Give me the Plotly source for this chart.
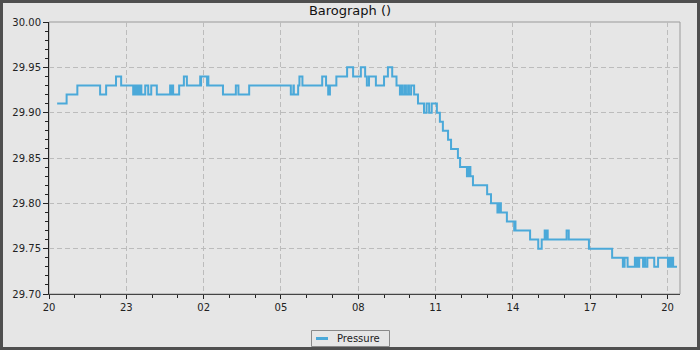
import datetime as dt
import plotly.graph_objects as go

# ---- data ----
start = dt.datetime(2024, 1, 1, 20, 0)
minutes = [19, 41, 66, 119, 133, 156, 168, 196, 198, 200, 203, 205, 208, 211, 213, 215,
           224, 231, 238, 251, 282, 284, 286, 289, 298, 303, 314, 321, 352, 353, 354,
           368, 369, 371, 405, 435, 441, 466, 563, 569, 570, 580, 583, 590, 636, 645,
           650, 654, 669, 694, 708, 726, 736, 740, 745, 761, 780, 789, 799, 809, 817,
           820, 822, 827, 831, 836, 838, 843, 850, 859, 873, 879, 885, 891, 903, 910,
           917, 929, 936, 952, 957, 973, 977, 981, 987, 1020, 1029, 1044, 1048, 1052,
           1066, 1083, 1084, 1086, 1120, 1139, 1147, 1154, 1156, 1157, 1161, 1205, 1210,
           1257, 1311, 1336, 1340, 1347, 1364, 1367, 1369, 1371, 1374, 1383, 1385, 1388,
           1393, 1409, 1418, 1441, 1444, 1447, 1449, 1453, 1462]
pressure = [29.91, 29.92, 29.93, 29.92, 29.93, 29.94, 29.93, 29.92, 29.93, 29.92, 29.93,
            29.92, 29.93, 29.92, 29.93, 29.92, 29.93, 29.92, 29.93, 29.92, 29.93, 29.92,
            29.93, 29.92, 29.92, 29.93, 29.94, 29.93, 29.94, 29.93, 29.94, 29.93, 29.94,
            29.93, 29.92, 29.93, 29.92, 29.93, 29.92, 29.93, 29.92, 29.93, 29.94, 29.93,
            29.94, 29.93, 29.92, 29.93, 29.94, 29.95, 29.94, 29.95, 29.94, 29.93, 29.94,
            29.93, 29.94, 29.95, 29.94, 29.93, 29.92, 29.93, 29.92, 29.93, 29.92, 29.93,
            29.92, 29.93, 29.92, 29.91, 29.90, 29.91, 29.90, 29.91, 29.90, 29.89, 29.88,
            29.87, 29.86, 29.85, 29.84, 29.83, 29.84, 29.83, 29.82, 29.81, 29.80, 29.79,
            29.80, 29.79, 29.78, 29.77, 29.78, 29.77, 29.76, 29.75, 29.76, 29.77, 29.76,
            29.77, 29.76, 29.77, 29.76, 29.75, 29.74, 29.73, 29.74, 29.73, 29.74, 29.73,
            29.74, 29.73, 29.74, 29.73, 29.74, 29.73, 29.74, 29.73, 29.74, 29.73, 29.74,
            29.73, 29.74, 29.73, 29.73]
series_name = "Pressure"
x_range_minutes = [0, 1469]
y_range = [29.70, 30.00]
y_ticks = [29.70, 29.75, 29.80, 29.85, 29.90, 29.95, 30.00]

times = [start + dt.timedelta(minutes=m) for m in minutes]
x_range = [start + dt.timedelta(minutes=m) for m in x_range_minutes]

W, H = 700, 350
ML, MR, MT, MB = 49, 20, 22, 56
PW, PH = W - ML - MR, H - MT - MB
BG = "#e6e6e6"
FONT = "DejaVu Sans"
LINE_COLOR = "#4ba9d9"

fig = go.Figure()
fig.add_trace(go.Scatter(
    x=times, y=pressure, mode="lines", name=series_name,
    line=dict(shape="hv", color=LINE_COLOR, width=2),
    showlegend=False,
))

def px_x(p):
    return (p - ML) / PW

def px_y(p):
    return (H - MB - p) / PH

# legend box (pixel geometry)
LX0, LX1, LY0, LY1 = 311, 390, 330, 347
LCY = (LY0 + LY1) / 2

fig.update_layout(
    width=W, height=H,
    margin=dict(l=ML, r=MR, t=MT, b=MB, autoexpand=False),
    paper_bgcolor=BG, plot_bgcolor=BG,
    font=dict(family=FONT, size=10, color="#222"),
    title=dict(text="Barograph ()", x=0.5, xref="container", xanchor="center",
               y=1 - 10.5 / H, yanchor="middle", yref="container",
               font=dict(family=FONT, size=13, color="#111")),
    showlegend=False,
    xaxis=dict(
        type="date", range=x_range, tick0=start, dtick=3 * 3600000,
        tickformat="%H", showgrid=True, gridcolor="#bcbcbc", griddash="5px,3px",
        gridwidth=1, zeroline=False, showline=True, linecolor="#444", linewidth=1,
        ticks="outside", ticklen=4, tickcolor="#222",
        minor=dict(dtick=3600000, ticks="outside", ticklen=3, tickcolor="#222",
                   showgrid=False),
        tickfont=dict(family=FONT, size=10, color="#222"),
    ),
    yaxis=dict(
        range=y_range, tickvals=y_ticks, tickformat=".2f",
        showgrid=True, gridcolor="#bcbcbc", griddash="5px,3px", gridwidth=1,
        zeroline=False, showline=True, linecolor="#222", linewidth=1,
        ticks="outside", ticklen=5, tickcolor="#222",
        minor=dict(dtick=0.01, tick0=29.70, ticks="outside", ticklen=3,
                   tickcolor="#222", showgrid=False),
        tickfont=dict(family=FONT, size=10, color="#222"),
    ),
    shapes=[
        # plot frame
        dict(type="rect", xref="paper", yref="paper", x0=0, x1=1, y0=0, y1=1,
             line=dict(color="#9a9a9a", width=1), fillcolor="rgba(0,0,0,0)",
             layer="below"),
        # legend box
        dict(type="rect", xref="paper", yref="paper",
             x0=px_x(LX0 + 0.5), x1=px_x(LX1 - 0.5), y0=px_y(LY1 - 0.5), y1=px_y(LY0 + 0.5),
             line=dict(color="#8a8a8a", width=1), fillcolor=BG),
        # legend swatch
        dict(type="line", xref="paper", yref="paper",
             x0=px_x(LX0 + 5), x1=px_x(LX0 + 17), y0=px_y(LCY), y1=px_y(LCY),
             line=dict(color=LINE_COLOR, width=3)),
        # outer window border
        dict(type="rect", xref="paper", yref="paper",
             x0=px_x(1.5), x1=px_x(W - 1.5), y0=px_y(H - 1.5), y1=px_y(1.5),
             line=dict(color="#4f4f4f", width=3), fillcolor="rgba(0,0,0,0)"),
    ],
    annotations=[
        dict(text=series_name, xref="paper", yref="paper",
             x=px_x(LX0 + 24), y=px_y(LCY - 0.5), xanchor="left", yanchor="middle",
             showarrow=False, font=dict(family=FONT, size=10, color="#222")),
    ],
)

fig.write_html("out.html", config={"displayModeBar": False})
